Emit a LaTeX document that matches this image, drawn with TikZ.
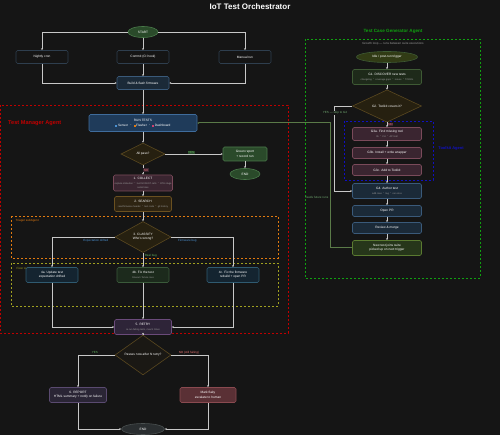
\documentclass[tikz,border=0pt]{standalone}
\usepackage{fontspec}
\setmainfont{Liberation Sans}
\usetikzlibrary{shapes.geometric,arrows.meta,calc}

\definecolor{bg}{HTML}{151515}
\definecolor{wire}{HTML}{C8C8C8}
\definecolor{subtxt}{HTML}{9A9A9A}
\definecolor{okfill}{HTML}{2A4A2A}\definecolor{okline}{HTML}{4A7A4A}
\definecolor{trigline}{HTML}{2E3E4E}
\definecolor{bldfill}{HTML}{1B2A38}\definecolor{bldline}{HTML}{3A5A7A}
\definecolor{runfill}{HTML}{1F3B5A}\definecolor{runline}{HTML}{3F6C9C}
\definecolor{dmdfill}{HTML}{262010}\definecolor{dmdline}{HTML}{5A4820}
\definecolor{colfill}{HTML}{3A2530}\definecolor{colline}{HTML}{7A4A5A}
\definecolor{srcfill}{HTML}{2E2412}\definecolor{srcline}{HTML}{6A5020}
\definecolor{fxafill}{HTML}{142430}\definecolor{fxaline}{HTML}{2F5A70}
\definecolor{fxbfill}{HTML}{1C2A1C}\definecolor{fxbline}{HTML}{3A5A3A}
\definecolor{retfill}{HTML}{2E2438}\definecolor{retline}{HTML}{6A4A7A}
\definecolor{repfill}{HTML}{2A2535}\definecolor{repline}{HTML}{5A4A70}
\definecolor{flkfill}{HTML}{5A3035}\definecolor{flkline}{HTML}{8A4A50}
\definecolor{endfill}{HTML}{2A2E30}\definecolor{endline}{HTML}{4A5050}
\definecolor{genfill}{HTML}{1E2A1A}\definecolor{genline}{HTML}{3E5A34}
\definecolor{joinfill}{HTML}{26361A}\definecolor{joinline}{HTML}{5A7A30}
\definecolor{feedline}{HTML}{5A7A48}
\definecolor{mgrred}{HTML}{C00000}
\definecolor{triorange}{HTML}{E07A10}
\definecolor{fixolive}{HTML}{A0A020}
\definecolor{gengreen}{HTML}{10A010}
\definecolor{tkblue}{HTML}{1010C0}
\definecolor{lblblue}{HTML}{4A90D0}
\definecolor{lblgreen}{HTML}{60B060}
\definecolor{lblred}{HTML}{E07070}
\definecolor{legpink}{HTML}{D04070}

\newcommand{\subln}[1]{{\color{subtxt}\fontsize{2.4}{3.8}\selectfont #1}}
\newcommand{\legsq}[1]{\textcolor{#1}{\rule{2pt}{2pt}}\,}

\begin{document}
\begin{tikzpicture}[x=1pt,y=-1pt,
  font=\fontsize{3.2}{4.3}\selectfont,
  box/.style={draw, rounded corners=1.5pt, line width=0.6pt, align=center,
    text=white, inner sep=1pt, minimum width=52pt, minimum height=13pt},
  oval/.style={ellipse, draw, line width=0.6pt, text=white, inner sep=0pt,
    minimum width=30pt, minimum height=11pt},
  decide/.style={diamond, draw, line width=0.6pt, align=center, text=white,
    inner sep=0pt, fill=dmdfill, draw=dmdline},
  frame/.style={dashed, line width=0.8pt, dash pattern=on 2pt off 2pt},
  flow/.style={draw=wire, line width=0.6pt, -{Stealth[length=2pt,width=2pt]}},
  lbl/.style={font=\fontsize{3}{3.6}\selectfont, inner sep=0.5pt},
  ttl/.style={font=\fontsize{4.6}{5.5}\selectfont\bfseries, inner sep=0pt}]

  \fill[bg] (0,0) rectangle (500,435);
  \useasboundingbox (0,0) rectangle (500,435);

  % frames
  \draw[frame, mgrred] (0,105) rectangle (288,333);
  \draw[frame, triorange] (11,216) rectangle (278,258);
  \draw[frame, fixolive] (11,263) rectangle (278,306);
  \draw[frame, gengreen] (305,39) rectangle (480,278);
  \draw[frame, tkblue] (344,121) rectangle (433,180);

  \node[text=white, font=\fontsize{8}{9.6}\selectfont\bfseries] (title) at (250,7) {IoT Test Orchestrator};
  \node[ttl, text=mgrred, anchor=west, font=\fontsize{5.6}{6.5}\selectfont\bfseries] (mgrlbl) at (8,123) {Test Manager Agent};
  \node[lbl, text=triorange, anchor=west] (trilbl) at (15,221) {Triager subAgent};
  \node[lbl, text=fixolive, anchor=west] (fixlbl) at (16,269) {Fixer subAgent};
  \node[ttl, text=gengreen] (genlbl) at (393,31) {Test Case Generator Agent};
  \node[ttl, text=tkblue, font=\fontsize{4}{5}\selectfont\bfseries] (tklbl) at (451,148) {Toolkit Agent};
  \node[lbl, text=subtxt] (genlbl2) at (393,44) {Growth loop --- runs between suite executions};

  % main pipeline
  \node[oval, fill=okfill, draw=okline] (start) at (143,32) {START};
  \node[box, fill=bg, draw=trigline] (nightly) at (42,57) {Nightly cron};
  \node[box, fill=bg, draw=trigline] (commit) at (143,57) {Commit (CI hook)};
  \node[box, fill=bg, draw=trigline] (manual) at (245,57) {Manual run};
  \node[box, fill=bldfill, draw=bldline] (build) at (143,83) {Build \& flash firmware};
  \node[box, fill=runfill, draw=runline, minimum width=108pt, minimum height=17pt] (run) at (143,123)
    {RUN TESTS\\[0.6pt]\legsq{lblblue}Sensor\enspace$\cdot$\enspace\legsq{triorange}Flasher\enspace$\cdot$\enspace\legsq{legpink}Dashboard};
  \node[decide, minimum width=44pt, minimum height=22pt] (allpass) at (143,154) {All pass?};
  \node[box, fill=okfill, draw=okline, minimum width=44pt, minimum height=14pt] (green) at (245,154) {Green report\\+ record run};
  \node[oval, fill=okfill, draw=okline] (endok) at (245,174) {END};
  \node[box, fill=colfill, draw=colline, minimum width=57pt, minimum height=16pt] (collect) at (143,183)
    {1. COLLECT\\\subln{capture stdout/err $\cdot$ last 50 REST calls $\cdot$ OTA stage}\\\subln{serial lines}};
  \node[box, fill=srcfill, draw=srcline, minimum width=57pt, minimum height=15pt] (search) at (143,204)
    {2. SEARCH\\\subln{read firmware header $\cdot$ test code $\cdot$ git history}};
  \node[decide, minimum width=56pt, minimum height=31pt] (classify) at (143,237) {3. CLASSIFY\\Who's wrong?};
  \node[box, fill=fxafill, draw=fxaline, minimum height=15pt] (fixa) at (52,275) {4a. Update test\\expectation drifted};
  \node[box, fill=fxbfill, draw=fxbline, minimum height=15pt] (fixb) at (143,275) {4b. Fix the test\\\subln{timeout / fixture race}};
  \node[box, fill=fxafill, draw=fxaline, minimum height=15pt] (fixc) at (233,275) {4c. Fix the firmware\\rebuild + open PR};
  \node[box, fill=retfill, draw=retline, minimum width=57pt, minimum height=15pt] (retry) at (143,327)
    {5. RETRY\\\subln{re-run failing tests, max N times}};
  \node[decide, minimum width=56pt, minimum height=26pt, fill=bg!70!dmdfill] (passes) at (143,355) {Passes now after N retry?};
  \node[box, fill=repfill, draw=repline, minimum width=57pt, minimum height=15pt] (report) at (78,395) {6. REPORT\\HTML summary + notify on failure};
  \node[box, fill=flkfill, draw=flkline, minimum width=56pt, minimum height=15pt] (flaky) at (208,395) {Mark flaky\\escalate to human};
  \node[oval, fill=endfill, draw=endline, minimum width=43pt] (endfin) at (143,429) {END};

  % generator loop
  \node[oval, fill=genfill!80!olive, draw=genline, minimum width=61pt] (idle) at (387,57) {Idle / post-run trigger};
  \node[box, fill=genfill, draw=genline, minimum width=69pt, minimum height=15pt] (discover) at (387,77)
    {G1. DISCOVER new tests\\\subln{changelog $\cdot$ coverage gaps $\cdot$ issues $\cdot$ TODOs}};
  \node[decide, minimum width=69pt, minimum height=26pt] (covers) at (387,106) {G2. Toolkit covers it?};
  \node[box, fill=colfill, draw=colline, minimum width=69pt, minimum height=13pt] (gthreea) at (387,134)
    {G3a. Find missing tool\\\subln{lib $\cdot$ CLI $\cdot$ API call}};
  \node[box, fill=colfill, draw=colline, minimum width=69pt, minimum height=11pt] (gthreeb) at (387,153) {G3b. Install + write wrapper};
  \node[box, fill=colfill, draw=colline, minimum width=69pt, minimum height=11pt] (gthreec) at (387,170) {G3c. Add to Toolkit};
  \node[box, fill=bldfill, draw=bldline, minimum width=69pt, minimum height=15pt] (gfour) at (387,191)
    {G4. Author test\\\subln{add case $\cdot$ tag $\cdot$ run once}};
  \node[box, fill=bldfill, draw=bldline, minimum width=69pt, minimum height=11pt] (openpr) at (387,211) {Open PR};
  \node[box, fill=bldfill, draw=bldline, minimum width=69pt, minimum height=11pt] (review) at (387,228) {Review \& merge};
  \node[box, fill=joinfill, draw=joinline, minimum width=69pt, minimum height=15pt] (joins) at (387,248) {New test joins suite\\picked up on next trigger};

  % connectors, main
  \draw[flow] (start.west) -| (nightly.north);
  \draw[flow] (start) -- (commit);
  \draw[flow] (start.east) -| (manual.north);
  \draw[flow] (nightly.south) |- (build.west);
  \draw[flow] (commit) -- (build);
  \draw[flow] (manual.south) |- (build.east);
  \draw[flow] (build) -- (run);
  \draw[flow] (run) -- (allpass);
  \draw[flow] (allpass.east) -- node[lbl, pos=0.45, above, fill=okfill, text=lblgreen] {YES} (green.west);
  \draw[flow] (green) -- (endok);
  \draw[flow] (allpass) -- node[lbl, right, fill=colfill, text=lblred] {NO} (collect);
  \draw[flow] (collect) -- (search);
  \draw[flow] (search) -- (classify);
  \draw[flow] (classify.west) -| node[lbl, pos=0.15, below=2pt, text=lblblue] {Expectation drifted} (fixa.north);
  \draw[flow] (classify.east) -| node[lbl, pos=0.13, below=2pt, text=lblblue] {Firmware bug} (fixc.north);
  \draw[flow] (classify.south) -- node[lbl, pos=0.2, right=1pt, text=lblgreen] {Real bug} (fixb.north);
  \draw[flow] (fixa.south) |- (retry.west);
  \draw[flow] (fixb) -- (retry);
  \draw[flow] (fixc.south) |- (retry.east);
  \draw[flow] (retry) -- (passes);
  \draw[flow] (passes.west) -| node[lbl, pos=0.27, above=0.5pt, text=lblgreen] {YES} (report.north);
  \draw[flow] (passes.east) -| node[lbl, pos=0.24, above=0.5pt, text=lblred] {NO (still failing)} (flaky.north);
  \draw[flow] (report.south) |- (endfin.west);
  \draw[flow] (flaky.south) |- (endfin.east);

  % connectors, generator
  \draw[flow] (idle) -- (discover);
  \draw[flow] (discover) -- (covers);
  \draw[flow] (covers) -- node[lbl, pos=0.45, right=0.5pt, fill=colfill, text=lblred] {NO} (gthreea);
  \draw[flow] (gthreea) -- (gthreeb);
  \draw[flow] (gthreeb) -- (gthreec);
  \draw[flow] (gthreec) -- (gfour);
  \draw[flow] (gfour) -- (openpr);
  \draw[flow] (openpr) -- (review);
  \draw[flow] (review) -- (joins);
  \coordinate (skip) at ($(covers.west)+(-18,0)$);
  \draw[flow] (covers.west) -- (skip) |- (gfour.west);
  \node[lbl, fill=bg, text=lblgreen!70!subtxt] (skiplbl) at (335,113) {YES --- skip to G4};
  \coordinate (feed) at ($(joins.west)+(-22,0)$);
  \draw[flow, draw=feedline, line width=1pt] (joins.west) -- (feed) |- (run.east);
  \node[lbl, text=lblgreen!70!subtxt] (feedlbl) at (317,197) {feeds future runs};
\end{tikzpicture}
\end{document}
